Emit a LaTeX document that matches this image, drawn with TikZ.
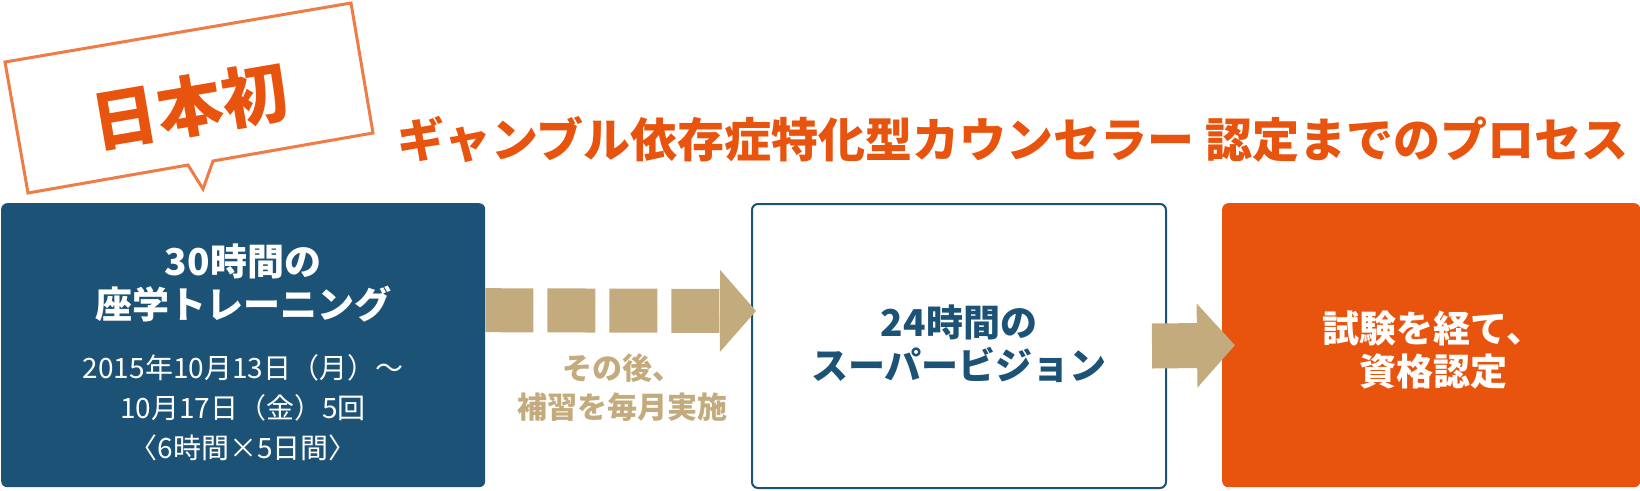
\documentclass[tikz,border=0pt]{standalone}
\usepackage{fontspec}
\newfontfamily\jpfont{Noto Sans CJK JP}
\usetikzlibrary{positioning,arrows.meta,calc}
\definecolor{navy}{HTML}{1B5276}
\definecolor{ember}{HTML}{E8530D}
\definecolor{sand}{HTML}{C4AB7D}
\definecolor{coral}{HTML}{EF7B47}
\tikzset{
    x=1pt,
    y=-1pt,
    stage/.style = {
        shape=rectangle,
        rounded corners=6pt,
        minimum height=284pt,
        anchor=north west,
        inner sep=0pt
    },
    boxhead/.style = {
        align=center,
        inner sep=0pt,
        font=\jpfont\bfseries\fontsize{37pt}{43pt}\selectfont
    },
    boxnote/.style = {
        align=center,
        inner sep=0pt,
        font=\jpfont\fontsize{28pt}{40pt}\selectfont
    },
    caption/.style = {
        align=center,
        inner sep=0pt,
        text=sand,
        font=\jpfont\bfseries\fontsize{30pt}{39pt}\selectfont
    },
    banner/.style = {
        inner sep=0pt,
        text=ember,
        font=\jpfont\bfseries\fontsize{47pt}{47pt}\selectfont
    },
    callout/.style = {
        draw=coral,
        line width=3pt,
        fill=white
    },
    dasharrow/.style = {
        draw=sand,
        line width=44pt,
        dash pattern=on 48pt off 14pt,
        -{Triangle[length=36pt,width=80pt]}
    },
    solidarrow/.style = {
        draw=sand,
        line width=45pt,
        -{Triangle[length=38pt,width=82pt]}
    },
}

\begin{document}
\begin{tikzpicture}
    \useasboundingbox (0,0) rectangle (1640,490);

    % speech bubble
    \draw[callout] (5,62) -- (351,3) -- (373,133) -- (213,161) -- (203,189) -- (188,165) -- (28,193) -- cycle;
    \node[inner sep=0pt, rotate=9.7, text=ember, font=\jpfont\bfseries\fontsize{66pt}{66pt}\selectfont] (first) at (190,106) {日本初};

    \node[banner] (process) at (1013,139) {ギャンブル依存症特化型カウンセラー 認定までのプロセス};

    % stages
    \node[stage, fill=navy, minimum width=484pt] (training) at (1,203) {};
    \node[stage, draw=navy, line width=2pt, fill=white, minimum width=414pt] (supervision) at (751,203) {};
    \node[stage, fill=ember, minimum width=418pt] (exam) at (1222,203) {};

    \node[boxhead, text=white] (trainhead) at (243,283.5) {30時間の\\座学トレーニング};
    \node[boxnote, text=white] (traindate) at (243,408) {2015年10月13日（月）～\\10月17日（金）5回\\〈6時間×5日間〉};
    \node[boxhead, text=navy] (supervhead) at (959,343.5) {24時間の\\スーパービジョン};
    \node[boxhead, text=white] (examhead) at (1433,350) {試験を経て、\\資格認定};

    % arrows
    \path[dasharrow] ([yshift=35pt]training.east) -- ([yshift=35pt,xshift=5pt]supervision.west);
    \node[caption] (later) at (622,387.5) {その後、\\補習を毎月実施};
    \path[solidarrow] ([xshift=-15pt]supervision.east) -- ([xshift=13pt]exam.west);

\end{tikzpicture}
\end{document}
